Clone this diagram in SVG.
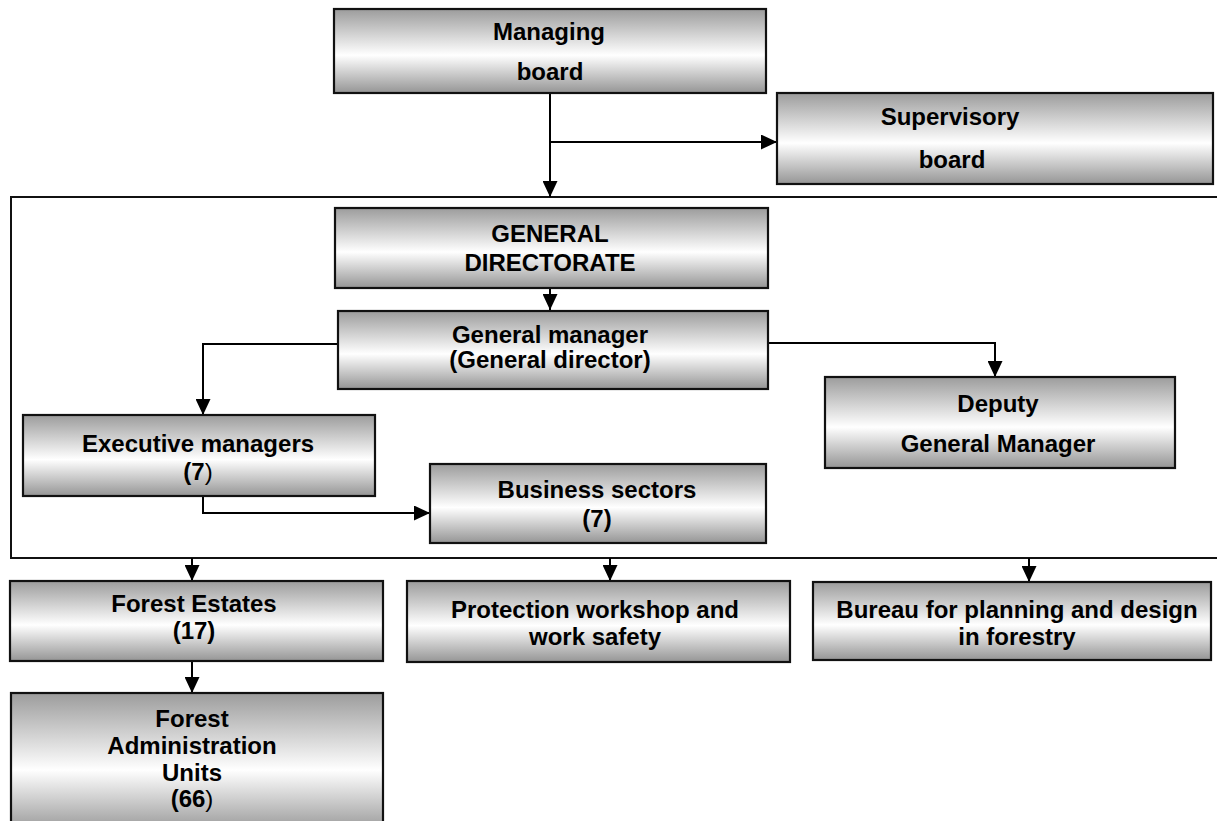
<svg xmlns="http://www.w3.org/2000/svg" width="1217" height="821" viewBox="0 0 1217 821">
<defs>
<linearGradient id="g" x1="0" y1="0" x2="0" y2="1">
<stop offset="0" stop-color="#9c9c9c"/>
<stop offset="0.55" stop-color="#ffffff"/>
<stop offset="1" stop-color="#959595"/>
</linearGradient>
<marker id="ah" markerUnits="userSpaceOnUse" markerWidth="16" markerHeight="15" refX="16" refY="7.5" orient="auto">
<path d="M0,0 L16,7.5 L0,15 z" fill="#000"/>
</marker>
</defs>
<style>
.box{fill:url(#g);stroke:#111;stroke-width:2.2}
.t{font-family:"Liberation Sans",Arial,sans-serif;font-weight:bold;font-size:24px;fill:#000;text-anchor:middle}
.n{font-weight:normal}
.c{fill:none;stroke:#000;stroke-width:2}
</style>
<g id="container">
<rect x="11" y="197" width="1220" height="361" fill="none" stroke="#111" stroke-width="2"/>
</g>
<g id="connectors">
<path class="c" d="M550,93 V197" marker-end="url(#ah)"/>
<path class="c" d="M550,142 H777" marker-end="url(#ah)"/>
<path class="c" d="M550,288 V310" marker-end="url(#ah)"/>
<path class="c" d="M338,344 H203 V415" marker-end="url(#ah)"/>
<path class="c" d="M768,343 H995 V377" marker-end="url(#ah)"/>
<path class="c" d="M203,496 V513 H430" marker-end="url(#ah)"/>
<path class="c" d="M192,558 V581" marker-end="url(#ah)"/>
<path class="c" d="M610,558 V581" marker-end="url(#ah)"/>
<path class="c" d="M1029,558 V582" marker-end="url(#ah)"/>
<path class="c" d="M192,661 V693" marker-end="url(#ah)"/>
</g>
<g id="managing-board">
<rect class="box" x="334" y="9" width="432" height="84"/>
<text class="t" x="549" y="40">Managing</text>
<text class="t" x="550" y="80">board</text>
</g>
<g id="supervisory-board">
<rect class="box" x="777" y="93" width="436" height="91"/>
<text class="t" x="950" y="125">Supervisory</text>
<text class="t" x="952" y="168">board</text>
</g>
<g id="general-directorate">
<rect class="box" x="335" y="208" width="433" height="80"/>
<text class="t" x="550" y="242">GENERAL</text>
<text class="t" x="550" y="271">DIRECTORATE</text>
</g>
<g id="general-manager">
<rect class="box" x="338" y="311" width="430" height="78"/>
<text class="t" x="550" y="343">General manager</text>
<text class="t" x="550" y="368">(General director)</text>
</g>
<g id="deputy">
<rect class="box" x="825" y="377" width="350" height="91"/>
<text class="t" x="998" y="412">Deputy</text>
<text class="t" x="998" y="452">General Manager</text>
</g>
<g id="executive-managers">
<rect class="box" x="23" y="415" width="352" height="81"/>
<text class="t" x="198" y="452">Executive managers</text>
<text class="t" x="198" y="480">(7<tspan class="n">)</tspan></text>
</g>
<g id="business-sectors">
<rect class="box" x="430" y="464" width="336" height="79"/>
<text class="t" x="597" y="498">Business sectors</text>
<text class="t" x="597" y="527">(7)</text>
</g>
<g id="forest-estates">
<rect class="box" x="10" y="581" width="373" height="80"/>
<text class="t" x="194" y="612">Forest Estates</text>
<text class="t" x="194" y="639">(17)</text>
</g>
<g id="protection">
<rect class="box" x="407" y="581" width="383" height="81"/>
<text class="t" x="595" y="618">Protection workshop and</text>
<text class="t" x="595" y="645">work safety</text>
</g>
<g id="bureau">
<rect class="box" x="813" y="582" width="398" height="78"/>
<text class="t" x="1017" y="618">Bureau for planning and design</text>
<text class="t" x="1017" y="645">in forestry</text>
</g>
<g id="forest-administration-units">
<rect class="box" x="11" y="693" width="372" height="140"/>
<text class="t" x="192" y="727">Forest</text>
<text class="t" x="192" y="754">Administration</text>
<text class="t" x="192" y="781">Units</text>
<text class="t" x="192" y="807">(66<tspan class="n">)</tspan></text>
</g>
</svg>
